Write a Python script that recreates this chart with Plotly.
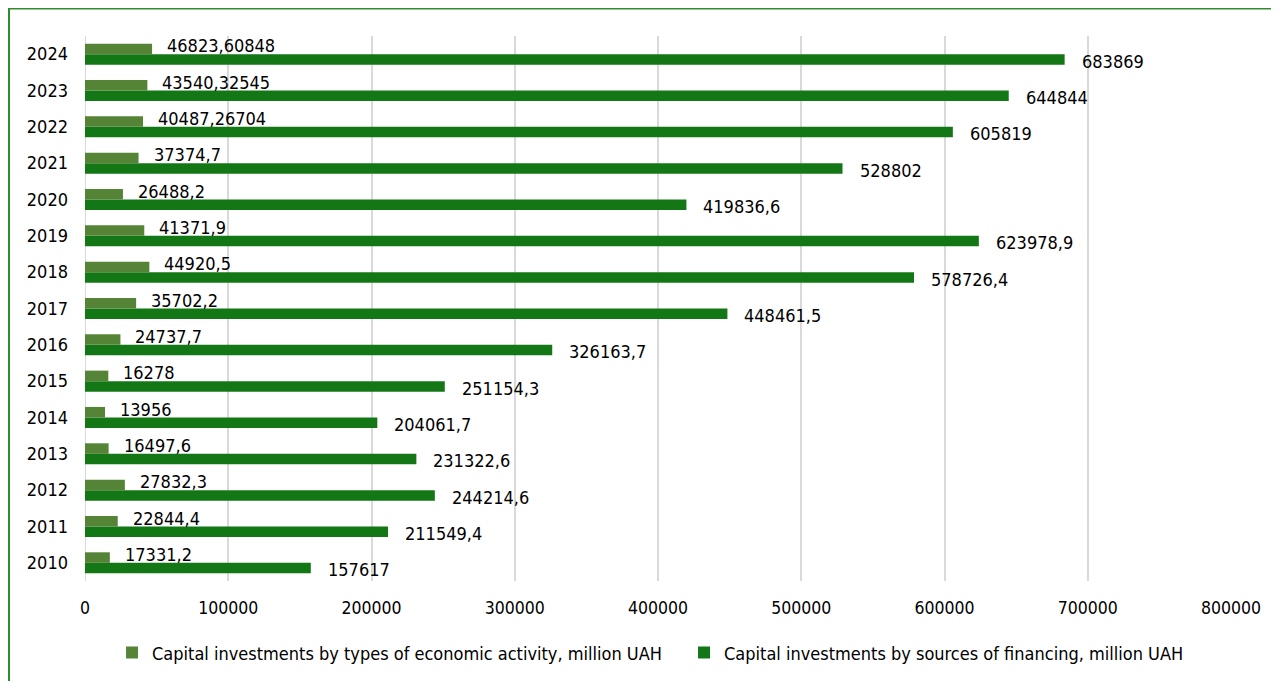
import plotly.graph_objects as go

years = list(range(2010, 2025))
by_activity = [17331.2, 22844.4, 27832.3, 16497.6, 13956, 16278, 24737.7, 35702.2,
               44920.5, 41371.9, 26488.2, 37374.7, 40487.26704, 43540.32545, 46823.60848]
by_financing = [157617, 211549.4, 244214.6, 231322.6, 204061.7, 251154.3, 326163.7, 448461.5,
                578726.4, 623978.9, 419836.6, 528802, 605819, 644844, 683869]
name_activity = "Capital investments by types of economic activity, million UAH"
name_financing = "Capital investments by sources of financing, million UAH"
x_ticks = [0, 100000, 200000, 300000, 400000, 500000, 600000, 700000, 800000]

LIGHT = "#558437"
DARK = "#147716"
FONT = "DejaVu Sans Condensed, DejaVu Sans, sans-serif"
FS = 18


def fmt(v):
    return str(v).replace(".", ",")


# page has an 8px body margin; layout coordinates below compensate for it
W, H = 1279, 681
L, R, T, B = 77, 56, 28.4, 108.4
pw, ph = W - L - R, H - T - B

fig = go.Figure()
fig.add_trace(go.Bar(y=years, x=by_financing, orientation="h", name=name_financing,
                     marker=dict(color=DARK, line=dict(width=0)), legendrank=2))
fig.add_trace(go.Bar(y=years, x=by_activity, orientation="h", name=name_activity,
                     marker=dict(color=LIGHT, line=dict(width=0)), legendrank=1))

ann = []
for y, a, f in zip(years, by_activity, by_financing):
    ann.append(dict(x=a, y=y, text=fmt(a), showarrow=False, xanchor="left", yanchor="middle",
                    xshift=13, yshift=8.5, font=dict(family=FONT, size=FS, color="#000")))
    ann.append(dict(x=f, y=y, text=fmt(f), showarrow=False, xanchor="left", yanchor="middle",
                    xshift=15, yshift=-7, font=dict(family=FONT, size=FS, color="#000")))

# outer chart border (left and top visible)
x0 = (1 - L) / pw
x1 = (1300 - L) / pw
y1 = (H - B - 1) / ph
y0 = (H - B - 720) / ph

fig.update_layout(
    width=W, height=H,
    margin=dict(l=L, r=R, t=T, b=B, autoexpand=False),
    barmode="group", bargap=0.42, bargroupgap=0,
    plot_bgcolor="white", paper_bgcolor="white",
    font=dict(family=FONT, size=FS, color="#000"),
    xaxis=dict(range=[0, 800000], tickvals=x_ticks, ticktext=[str(v) for v in x_ticks],
               tickfont=dict(size=17.5),
               showgrid=True, gridcolor="#D9D9D9", gridwidth=2, zeroline=False,
               showline=False, ticks="", ticklabelstandoff=14, fixedrange=True),
    yaxis=dict(range=[years[0] - 0.5, years[-1] + 0.5], tickvals=years,
               ticktext=[str(y) for y in years], tickfont=dict(size=18),
               showgrid=False, zeroline=False, showline=False, ticks="",
               ticklabelstandoff=16, fixedrange=True),
    legend=dict(orientation="h", x=0.0236, xanchor="left", y=-0.098, yanchor="top",
                font=dict(family=FONT, size=18, color="#000"), traceorder="normal",
                itemwidth=30, entrywidth=527, entrywidthmode="pixels"),
    showlegend=True,
    annotations=ann,
    shapes=[dict(type="rect", xref="paper", yref="paper", x0=x0, x1=x1, y0=y0, y1=y1,
                 line=dict(color="#2E8B2E", width=2), layer="below")],
)
fig.add_shape(type="line", xref="x", yref="paper", x0=0, x1=0, y0=0, y1=1,
              line=dict(color="#D9D9D9", width=2), layer="below")

fig.write_html("out.html")
